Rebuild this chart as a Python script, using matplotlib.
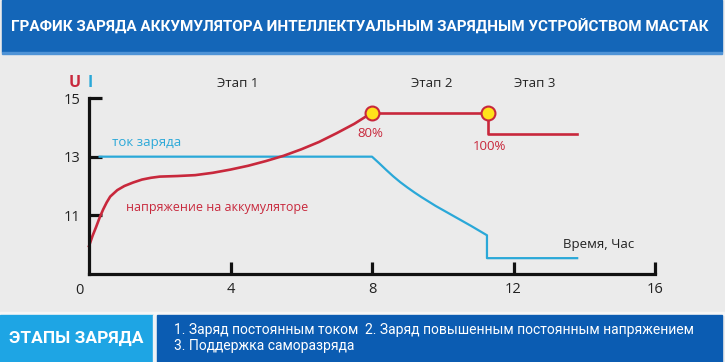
import numpy as np
import matplotlib.pyplot as plt
from matplotlib.patches import Rectangle

# данные графика (время, часы)
t_u1 = [0, 0.1, 0.2, 0.3, 0.4, 0.5, 0.6, 0.8, 1.0, 1.25, 1.5, 1.75, 2.0, 2.5, 3.0,
        3.5, 4.0, 4.5, 5.0, 5.5, 6.0, 6.5, 7.0, 7.5, 8.0]
u1 = [9.95, 10.3, 10.6, 10.92, 11.2, 11.44, 11.64, 11.86, 12.0, 12.12, 12.22, 12.28, 12.32,
      12.34, 12.37, 12.45, 12.56, 12.69, 12.85, 13.03, 13.25, 13.5, 13.8, 14.12, 14.5]
t_u2 = [8.0, 11.27, 11.27, 13.8]
u2 = [14.5, 14.5, 13.78, 13.78]
t_i = [0.3, 8.0, 8.2, 8.4, 8.6, 8.8, 9.0, 9.2, 9.4, 9.8, 10.3, 10.8, 11.25, 11.25, 13.8]
i_zar = [13, 13, 12.78, 12.55, 12.33, 12.13, 11.95, 11.78, 11.62, 11.32, 10.98, 10.64,
         10.32, 9.54, 9.54]
t_dots = [8.0, 11.27]
u_dots = [14.5, 14.5]

x_ticks = [4, 8, 12, 16]
y_ticks = [11, 13, 15]
etapy = ['Этап 1', 'Этап 2', 'Этап 3']
etapy_x = [4.2, 9.7, 12.6]

RED = '#c8283c'
BLUE = '#2aa8d8'
FONT = ['Open Sans', 'DejaVu Sans']
NARROW = ['Roboto', 'DejaVu Sans']

W, H = 725, 362
fig = plt.figure(figsize=(W / 100, H / 100), dpi=100)
fig.patch.set_facecolor('#ebebeb')

# шапка и нижняя полоса
bg = fig.add_axes([0, 0, 1, 1])
bg.set_xlim(0, W)
bg.set_ylim(H, 0)
bg.axis('off')
bg.add_patch(Rectangle((2, 0), 720, 52, color='#1466b8'))
bg.add_patch(Rectangle((2, 52), 720, 2, color='#4f93d6'))
bg.add_patch(Rectangle((0, 312), W, 3, color='#f6f6f6'))
bg.add_patch(Rectangle((0, 315), 153, 47, color='#1ea5e4'))
bg.add_patch(Rectangle((153, 315), 4, 47, color='#eef2f5'))
bg.add_patch(Rectangle((157, 315), 565, 47, color='#0b5cb2'))
bg.text(360, 27, 'ГРАФИК ЗАРЯДА АККУМУЛЯТОРА ИНТЕЛЛЕКТУАЛЬНЫМ ЗАРЯДНЫМ УСТРОЙСТВОМ МАСТАК',
        color='white', fontsize=11, fontweight='bold', family=NARROW, ha='center', va='center')
bg.text(76, 338, 'ЭТАПЫ ЗАРЯДА', color='white', fontsize=12.5, fontweight='bold',
        family=NARROW, ha='center', va='center')
bg.text(174, 330, '1. Заряд постоянным током', color='white', fontsize=10, family=NARROW, va='center')
bg.text(365, 330, '2. Заряд повышенным постоянным напряжением', color='white', fontsize=10,
        family=NARROW, va='center')
bg.text(174, 346, '3. Поддержка саморазряда', color='white', fontsize=10, family=NARROW, va='center')

# сам график
ax = fig.add_axes([89 / W, (H - 274) / H, 566 / W, 176 / H])
ax.set_facecolor('none')
ax.set_xlim(0, 16)
ax.set_ylim(9, 15)
for s in ['top', 'right']:
    ax.spines[s].set_visible(False)
for s in ['left', 'bottom']:
    ax.spines[s].set_linewidth(2.3)
    ax.spines[s].set_color('#111111')
ax.set_xticks(x_ticks)
ax.set_yticks(y_ticks)
ax.tick_params(direction='in', length=9, width=2.3, color='#111111', labelsize=10.5,
               labelcolor='#222222', pad=6)
for lab in ax.get_xticklabels() + ax.get_yticklabels():
    lab.set_family(FONT)

ax.plot(t_i, i_zar, color=BLUE, lw=1.6, clip_on=False)
ax.plot(t_u1, u1, color=RED, lw=1.9, clip_on=False)
ax.plot(t_u2, u2, color=RED, lw=1.9, clip_on=False)
ax.plot(t_dots, u_dots, 'o', ms=10, mfc='#ffe21a', mec=RED, mew=1.5, clip_on=False, zorder=5)

ax.text(-0.28, 8.7, '0', fontsize=10.5, color='#222222', family=FONT, ha='center', va='top')
ax.text(-0.22, 15.5, 'U', color=RED, fontsize=11.5, fontweight='bold', family=FONT, ha='right', va='center')
ax.text(-0.05, 15.5, 'I', color=BLUE, fontsize=11.5, fontweight='bold', family=FONT, ha='left', va='center')
for x, e in zip(etapy_x, etapy):
    ax.text(x, 15.5, e, fontsize=9.5, color='#222222', family=FONT, ha='center', va='center')
ax.text(0.65, 13.5, 'ток заряда', color=BLUE, fontsize=9.5, family=FONT, va='center')
ax.text(1.05, 11.27, 'напряжение на аккумуляторе', color=RED, fontsize=9, family=FONT, va='center')
ax.text(7.95, 13.78, '80%', color=RED, fontsize=9.5, family=FONT, ha='center', va='center')
ax.text(11.33, 13.34, '100%', color=RED, fontsize=9.5, family=FONT, ha='center', va='center')
ax.text(13.4, 10.0, 'Время, Час', color='#222222', family=FONT, fontsize=9.5, va='center')

fig.savefig('out.png', dpi=100, facecolor=fig.get_facecolor())
